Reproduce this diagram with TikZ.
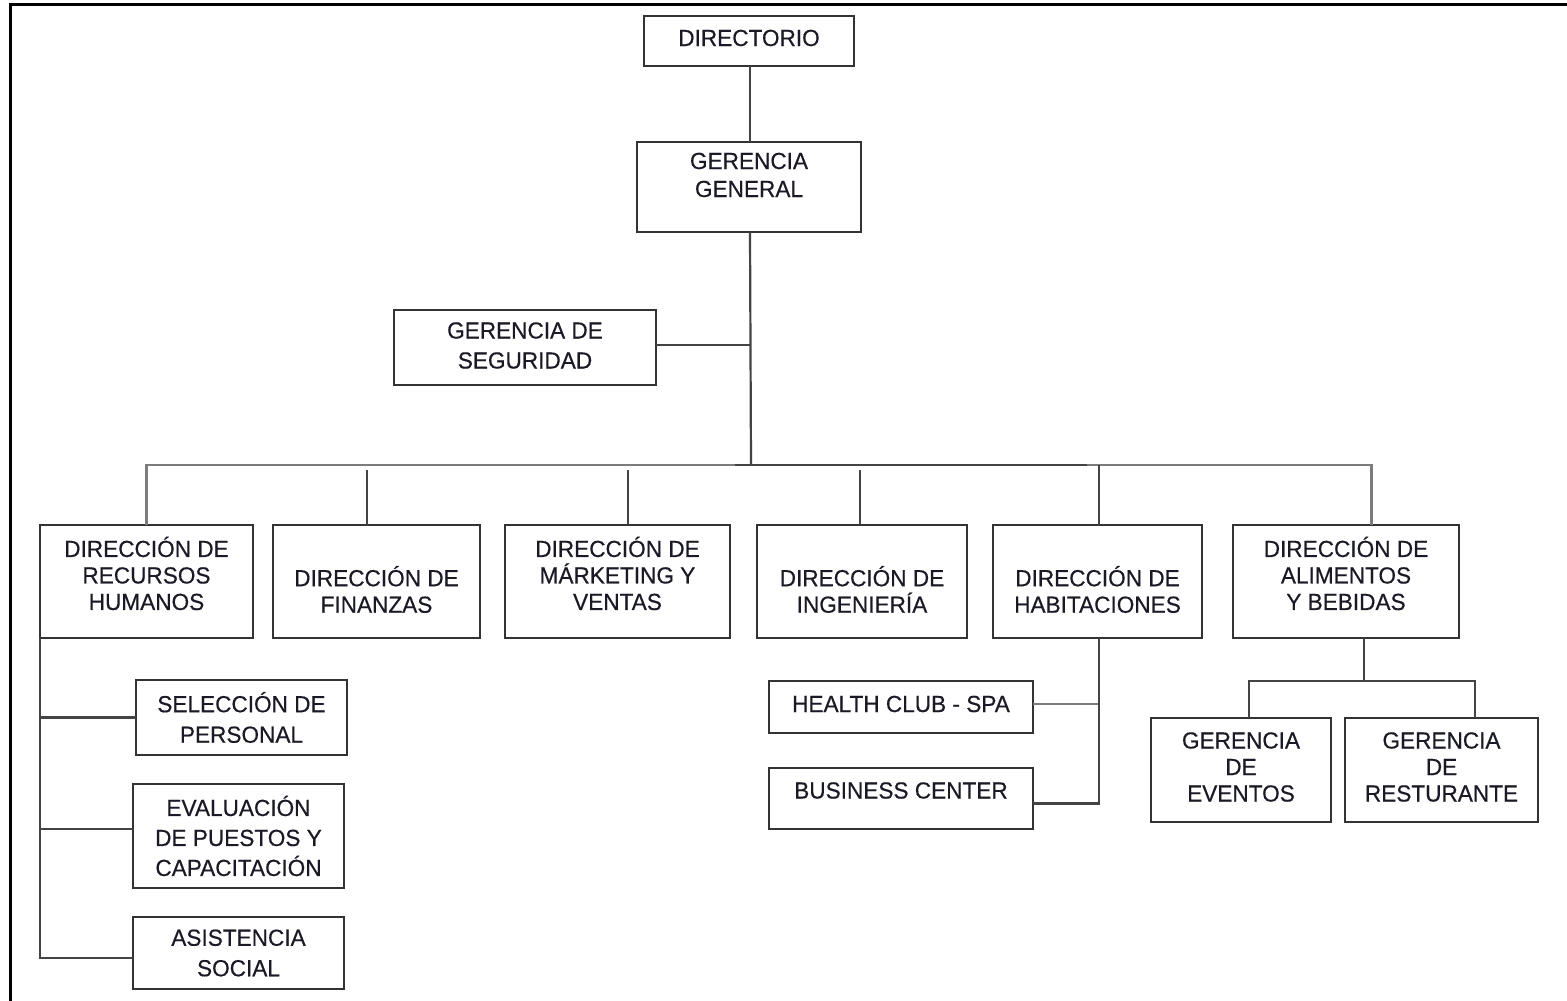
\documentclass[tikz,border=0pt]{standalone}
\usepackage{fontspec}
\setmainfont{Liberation Sans}[FakeBold=0.4,FakeStretch=0.97]
\definecolor{boxline}{HTML}{333333}
\definecolor{conn}{HTML}{444444}
\definecolor{txtcol}{HTML}{1A1A26}
\tikzset{
  obox/.style={draw=boxline, line width=2.2pt, fill=white, inner sep=0pt, outer sep=0pt},
  otxt/.style={text=txtcol, align=center, inner sep=0pt, font=\fontsize{23.3}{26.5}\selectfont},
  wtxt/.style={otxt, font=\fontsize{23.3}{30.5}\selectfont},
  link/.style={draw=conn, line width=2.2pt},
  buslink/.style={draw=conn!70, line width=2.2pt},
  frame/.style={draw=black, line width=3pt}
}
% name, x1, y1, x2, y2, text shift, text style, text
\newcommand\orgbox[8]{%
  \node[obox, minimum width={#4-#2}, minimum height={#5-#3},
        label={[#7,yshift=#6pt]center:#8}] (#1) at ({(#2+#4)/2},{(#3+#5)/2}) {};}
\begin{document}
\begin{tikzpicture}[x=1pt,y=-1pt]
\useasboundingbox (0,0) rectangle (1567,1001);
\fill[white] (0,0) rectangle (1567,1001);
\draw[frame] (10,1001) -- (10,4) -- (1567,4);

\orgbox{dir}{644}{16}{854}{66}{3}{otxt}{DIRECTORIO}
\orgbox{gg}{637}{142}{861}{232}{12}{otxt,font=\fontsize{23.3}{28}\selectfont}{GERENCIA\\GENERAL}
\orgbox{seg}{394}{310}{656}{385}{2}{otxt,font=\fontsize{23.3}{30}\selectfont}{GERENCIA DE\\SEGURIDAD}

\orgbox{rrhh}{40}{525}{253}{638}{8}{otxt}{DIRECCIÓN DE\\RECURSOS\\HUMANOS}
\orgbox{fin}{273}{525}{480}{638}{-8}{otxt}{DIRECCIÓN DE\\FINANZAS}
\orgbox{mkt}{505}{525}{730}{638}{8}{otxt}{DIRECCIÓN DE\\MÁRKETING Y\\VENTAS}
\orgbox{ing}{757}{525}{967}{638}{-8}{otxt}{DIRECCIÓN DE\\INGENIERÍA}
\orgbox{hab}{993}{525}{1202}{638}{-8}{otxt}{DIRECCIÓN DE\\HABITACIONES}
\orgbox{alim}{1233}{525}{1459}{638}{8}{otxt}{DIRECCIÓN DE\\ALIMENTOS\\Y BEBIDAS}

\orgbox{sel}{136}{680}{347}{755}{0}{wtxt}{SELECCIÓN DE\\PERSONAL}
\orgbox{eval}{133}{784}{344}{888}{0}{wtxt,font=\fontsize{23.3}{30}\selectfont}{EVALUACIÓN\\DE PUESTOS Y\\CAPACITACIÓN}
\orgbox{asis}{133}{917}{344}{989}{0}{wtxt}{ASISTENCIA\\SOCIAL}

\orgbox{hc}{769}{681}{1033}{733}{3}{otxt}{HEALTH CLUB - SPA}
\orgbox{bc}{769}{768}{1033}{829}{8}{otxt}{BUSINESS CENTER}

\orgbox{ev}{1151}{718}{1331}{822}{3}{otxt}{GERENCIA\\DE\\EVENTOS}
\orgbox{rest}{1345}{718}{1538}{822}{3}{otxt}{GERENCIA\\DE\\RESTURANTE}

\coordinate (busM) at (750,465);
\coordinate (busG) at (750,470);
\coordinate (fbus) at (1364,681);

% top chain
\draw[link] ([xshift=1pt]dir.south) -- ([xshift=1pt]gg.north);
\draw[link] ([xshift=1pt]gg.south) -- ([xshift=1pt]busM);
\draw[link] ([yshift=2.5pt]seg.east) -- ([yshift=2.5pt,xshift=1pt]seg.east -| gg.south);

% main bus
\draw[buslink] (rrhh.north) -- (rrhh.north |- busM) -- (busM);
\draw[buslink] (busM) -- ([xshift=25.5pt]alim.north |- busM) -- ([xshift=25.5pt]alim.north);
\draw[link] ([xshift=-15pt]busM) -- ([xshift=337pt]busM);
\draw[link] ([xshift=-9.5pt]fin.north) -- ([xshift=-9.5pt]fin.north |- busG);
\draw[link] ([xshift=10.5pt]mkt.north) -- ([xshift=10.5pt]mkt.north |- busG);
\draw[link] ([xshift=-2pt]ing.north) -- ([xshift=-2pt]ing.north |- busG);
\draw[link] ([xshift=1.5pt]hab.north) -- ([xshift=1.5pt]hab.north |- busM);

% RRHH branch
\draw[link] (rrhh.south west) |- ([yshift=-5pt]asis.west);
\draw[link] (rrhh.south west |- sel.west) -- (sel.west);
\draw[link] ([yshift=7pt]rrhh.south west |- eval.west) -- ([yshift=7pt]eval.west);

% Habitaciones branch
\draw[link] ([xshift=1.5pt]hab.south) |- ([yshift=-5pt]bc.east);
\draw[buslink] ([yshift=3pt]hc.east) -- ([yshift=3pt]hc.east -| hab.south);

% Alimentos branch
\draw[link] (alim.south -| fbus) -- (fbus);
\draw[link] ([xshift=8pt]ev.north) |- (fbus) -| ([xshift=33.5pt]rest.north);
\end{tikzpicture}
\end{document}
